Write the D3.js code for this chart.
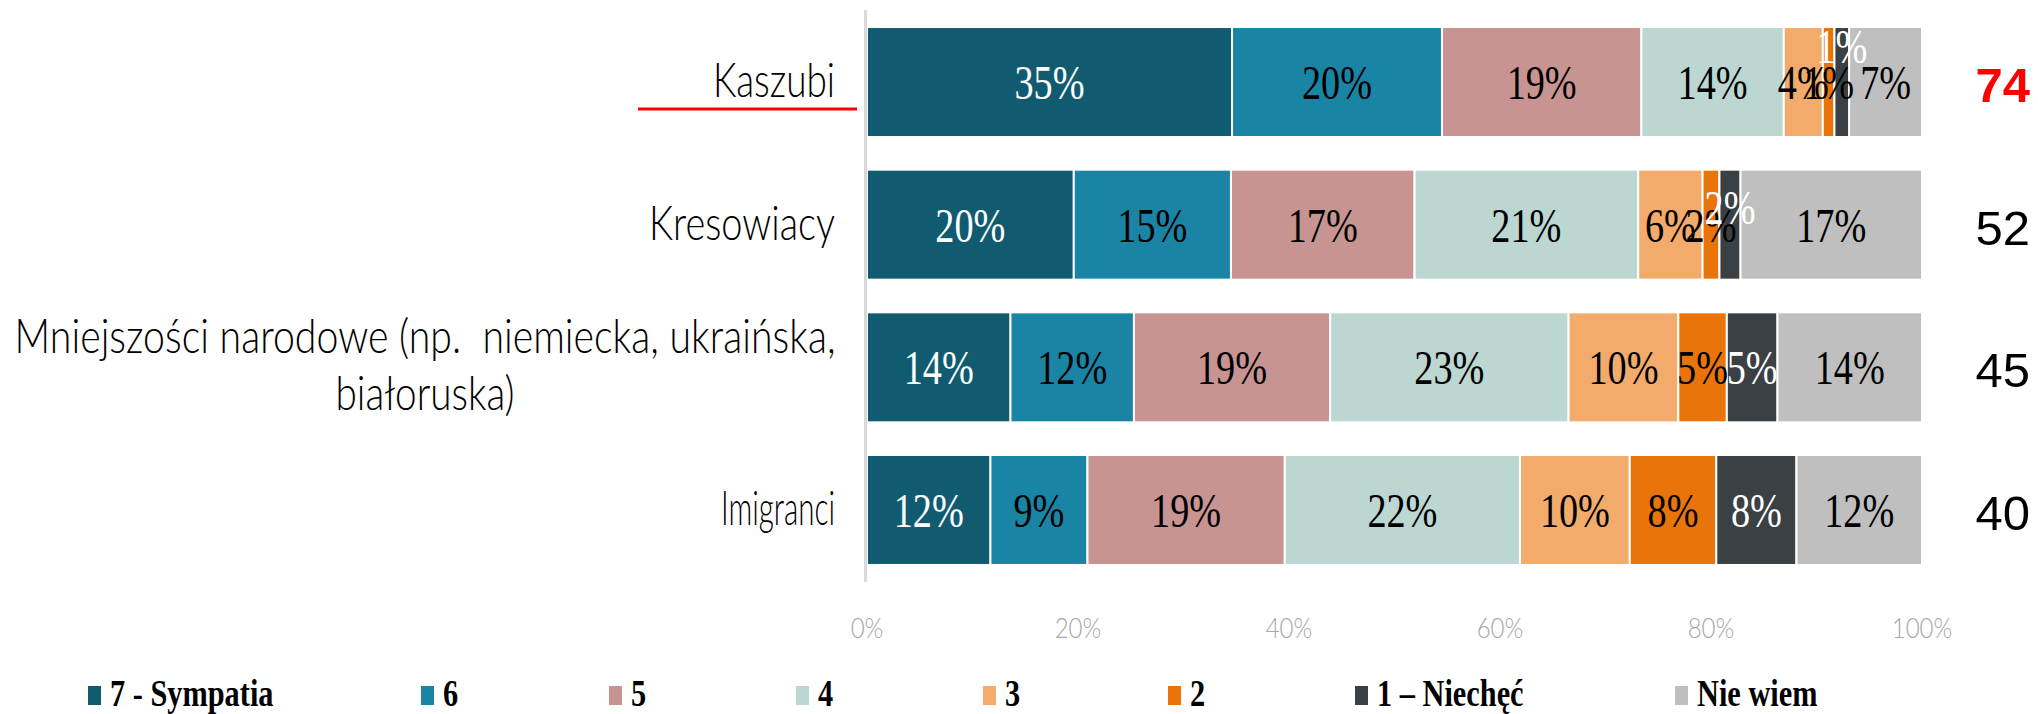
<!DOCTYPE html>
<html>
<head>
<meta charset="utf-8">
<script src="https://cdn.jsdelivr.net/npm/d3@7"></script>
<style>
  html, body { margin: 0; padding: 0; background: #fff; }
  svg { display: block; }
  text { white-space: pre; }
</style>
</head>
<body>
<div id="chart"></div>
<script>
/**
 * Data
 */
var categories = [
  "Kaszubi",
  "Kresowiacy",
  "Mniejszości narodowe (np.  niemiecka, ukraińska,|białoruska)",
  "Imigranci"
];
var seriesNames = ["7 - Sympatia", "6", "5", "4", "3", "2", "1 – Niechęć", "Nie wiem"];
// one row per category, one value per series (share in %)
var kaszubi = [34.6, 19.9, 18.9, 13.5, 3.7, 1.1, 1.4, 6.9];
var kresowiacy = [19.6, 14.9, 17.4, 21.2, 6.1, 1.6, 2.0, 17.2];
var mniejszosci = [13.6, 11.7, 18.6, 22.6, 10.4, 4.6, 4.8, 13.7];
var imigranci = [11.7, 9.2, 18.7, 22.3, 10.4, 8.2, 7.6, 11.9];
var indexValues = [74, 52, 45, 40];
var xTicks = [0, 20, 40, 60, 80, 100];

var rows = [kaszubi, kresowiacy, mniejszosci, imigranci];

/**
 * Globals
 */
var W = 2038, H = 714;
var colors = ["#115b70", "#1a84a5", "#c89492", "#bcd7d1", "#f2ab6b", "#e9740a", "#3a4043", "#bfbfbf"];
var labelColors = ["#fff", "#000", "#000", "#000", "#000", "#000", "#fff", "#000"];
var legendX = [88, 421, 609, 796, 983, 1168, 1355, 1675];
// widths of the category label lines in the source (condensed font)
var catLineWidth = [[122], [186], [821, 179], [114]];
// excel pushed a couple of tiny labels upward
var liftTiny = [36, 18, 0, 0];

var gothic = "'Lato', 'Open Sans', sans-serif";
var serif = "'Liberation Serif', 'Times New Roman', serif";

var x = d3.scaleLinear().domain([0, 100]).range([867, 1922]);
var y = d3.scaleBand().domain(d3.range(categories.length)).range([10.7, 581.3])
  .paddingInner(0.229).paddingOuter(0.1145);

var svg = d3.select("#chart").append("svg").attr("width", W).attr("height", H);

// condensed text helper: the source chart was stretched vertically
function ctext(g, tx, ty, sx) {
  return g.append("text").attr("transform", "translate(" + tx + "," + ty + ") scale(" + sx + ",1)");
}

/**
 * Bars
 */
var stacked = rows.map(function (r) {
  var acc = 0;
  return r.map(function (v, j) {
    var s = { x0: acc, x1: acc + v, v: v, j: j };
    acc += v;
    return s;
  });
});

var barG = svg.append("g");
stacked.forEach(function (segs, i) {
  var g = barG.append("g");
  g.selectAll("rect").data(segs).enter().append("rect")
    .attr("x", function (d) { return x(d.x0); })
    .attr("y", y(i))
    .attr("width", function (d) { return x(d.x1) - x(d.x0); })
    .attr("height", y.bandwidth())
    .attr("fill", function (d) { return colors[d.j]; })
    .attr("stroke", "#fff")
    .attr("stroke-width", 2);

  segs.forEach(function (d) {
    var cy = y(i) + y.bandwidth() / 2 + 17;
    if (d.j === 6 && d.v < 3) cy -= liftTiny[i];
    ctext(g, x((d.x0 + d.x1) / 2), cy, 0.78)
      .attr("text-anchor", "middle")
      .style("font-family", serif)
      .style("font-size", "49px")
      .style("fill", labelColors[d.j])
      .text(Math.round(d.v) + "%");
  });
});

/**
 * Axis
 */
svg.append("line")
  .attr("x1", x(0) - 1.5).attr("x2", x(0) - 1.5)
  .attr("y1", 10).attr("y2", 582)
  .attr("stroke", "#d9d9d9").attr("stroke-width", 3);

var tickG = svg.append("g");
xTicks.forEach(function (t) {
  ctext(tickG, x(t), 638, 0.86)
    .attr("text-anchor", "middle")
    .style("font-family", gothic)
    .style("font-weight", 300)
    .style("font-size", "28px")
    .style("fill", "#a6a6a6")
    .text(t + "%");
});

/**
 * Category labels
 */
var catG = svg.append("g");
categories.forEach(function (c, i) {
  var cy = y(i) + y.bandwidth() / 2;
  var lines = c.split("|");
  lines.forEach(function (l, k) {
    var two = lines.length > 1;
    var w = catLineWidth[i][k];
    var t = catG.append("text")
      .attr("y", two ? cy - 14 + k * 57 : cy + 15)
      .attr("textLength", w)
      .attr("lengthAdjust", "spacingAndGlyphs")
      .style("font-family", gothic)
      .style("font-weight", 300)
      .style("font-size", "47px")
      .style("fill", "#000")
      .text(l);
    // right-aligned single lines, centred block for the wrapped label
    t.attr("x", two ? 425 - w / 2 : 835 - w);
  });
});

// red underline under the highlighted group
svg.append("line")
  .attr("x1", 638).attr("x2", 857)
  .attr("y1", 109).attr("y2", 109)
  .attr("stroke", "#ff0000").attr("stroke-width", 3);

/**
 * Index numbers on the right
 */
indexValues.forEach(function (v, i) {
  svg.append("text")
    .attr("x", 2030)
    .attr("y", y(i) + y.bandwidth() / 2 + 20)
    .attr("text-anchor", "end")
    .style("font-family", "'Liberation Sans', Arial, sans-serif")
    .style("font-size", "49px")
    .style("font-weight", i === 0 ? "bold" : "normal")
    .style("fill", i === 0 ? "#ff0000" : "#000")
    .text(v);
});

/**
 * Legend
 */
var legG = svg.append("g");
seriesNames.forEach(function (s, j) {
  legG.append("rect")
    .attr("x", legendX[j]).attr("y", 686)
    .attr("width", 13).attr("height", 19)
    .attr("fill", colors[j]);
  ctext(legG, legendX[j] + 22, 706, 0.82)
    .style("font-family", serif)
    .style("font-weight", "bold")
    .style("font-size", "37px")
    .style("fill", "#000")
    .text(s);
});
</script>
</body>
</html>
